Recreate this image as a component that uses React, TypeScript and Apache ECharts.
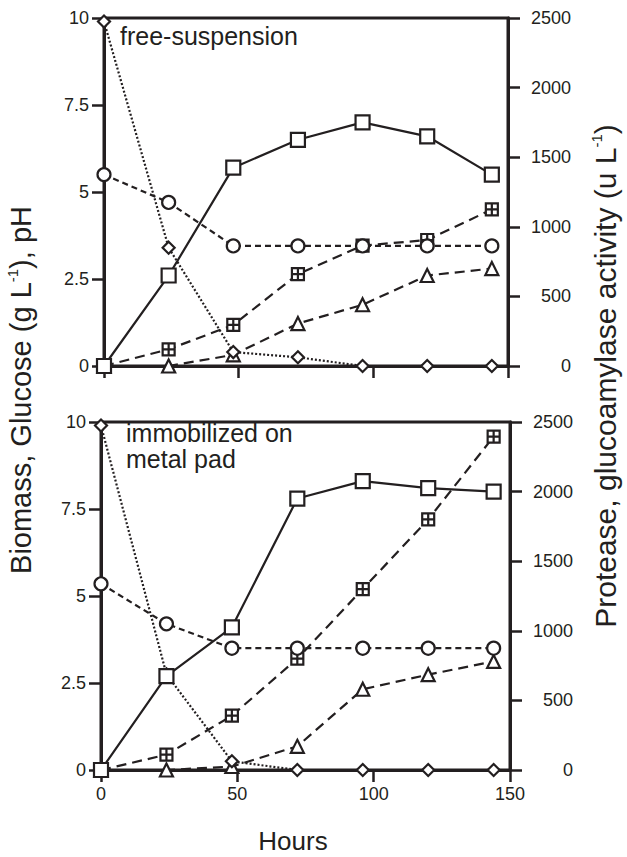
import React, { useEffect, useRef } from "react";
import * as echarts from "echarts";

const hours = [0, 24, 48, 72, 96, 120, 144];
const xTicks = [0, 50, 100, 150];
const leftTicks = [0, 2.5, 5, 7.5, 10];
const rightTicks = [0, 500, 1000, 1500, 2000, 2500];

// free-suspension
const biomassFree = [0, 2.6, 5.7, 6.5, 7.0, 6.6, 5.5];
const glucoseFree = [9.9, 3.4, 0.4, 0.25, 0, 0, 0];
const phFree = [5.5, 4.7, 3.45, 3.45, 3.45, 3.45, 3.45];
const proteaseFree = [0, 120, 295, 660, 865, 905, 1125];
const glucoamylaseFree = [0, 0, 80, 305, 440, 650, 700];

// immobilized on metal pad
const biomassImm = [0, 2.7, 4.1, 7.8, 8.3, 8.1, 8.0];
const glucoseImm = [9.9, 2.75, 0.25, 0, 0, 0, 0];
const phImm = [5.35, 4.2, 3.5, 3.5, 3.5, 3.5, 3.5];
const proteaseImm = [0, 110, 390, 800, 1300, 1800, 2395];
const glucoamylaseImm = [0, 0, 25, 170, 580, 685, 780];

const INK = "#231f20";
const FONT = "Liberation Sans, Arial, sans-serif";
const BOXPLUS = "path://M0,0H10V10H0Z M5,0V10 M0,5H10";

const pairs = (vals: number[]) => hours.map((h, i) => [h, vals[i]]);

function makeSeries(
  gi: number,
  bio: number[],
  glu: number[],
  ph: number[],
  pro: number[],
  gla: number[]
) {
  const base = {
    type: "line",
    xAxisIndex: gi,
    symbolKeepAspect: true,
    itemStyle: { color: "#ffffff", borderColor: INK, borderWidth: 2.2 },
    emphasis: { disabled: true },
  };
  return [
    {
      ...base,
      name: "glucoamylase" + gi,
      yAxisIndex: gi * 2 + 1,
      data: pairs(gla),
      symbol: "triangle",
      symbolSize: 13,
      lineStyle: { color: INK, width: 2.2, type: [10, 6] },
    },
    {
      ...base,
      name: "protease" + gi,
      yAxisIndex: gi * 2 + 1,
      data: pairs(pro),
      symbol: BOXPLUS,
      symbolSize: 12,
      lineStyle: { color: INK, width: 2.2, type: [10, 6] },
    },
    {
      ...base,
      name: "glucose" + gi,
      yAxisIndex: gi * 2,
      data: pairs(glu),
      symbol: "diamond",
      symbolSize: 12,
      lineStyle: { color: INK, width: 2.2, type: [2, 2] },
    },
    {
      ...base,
      name: "pH" + gi,
      yAxisIndex: gi * 2,
      data: pairs(ph),
      symbol: "circle",
      symbolSize: 13,
      lineStyle: { color: INK, width: 2.2, type: [6, 4] },
    },
    {
      ...base,
      name: "biomass" + gi,
      yAxisIndex: gi * 2,
      data: pairs(bio),
      symbol: "rect",
      symbolSize: 14,
      lineStyle: { color: INK, width: 2.2, type: "solid" },
    },
  ];
}

export default function App() {
  const ref = useRef<HTMLDivElement>(null);
  useEffect(() => {
    if (!ref.current) return;
    const chart = echarts.init(ref.current, null, { renderer: "svg" });
    const axisLine = { show: true, onZero: false, lineStyle: { color: INK, width: 3 } };
    const axisTick = { show: true, inside: false, length: 12, lineStyle: { color: INK, width: 2.5 } };
    const labelStyle = { color: INK, fontFamily: FONT, fontSize: 18, formatter: (v: number) => String(v) };

    const xAxis = (gi: number, showLabels: boolean) => ({
      type: "value",
      gridIndex: gi,
      min: xTicks[0],
      max: xTicks[xTicks.length - 1],
      interval: 50,
      axisLine,
      axisTick,
      splitLine: { show: false },
      axisLabel: { show: showLabels, margin: 15, ...labelStyle },
    });
    const yLeft = (gi: number) => ({
      type: "value",
      gridIndex: gi,
      position: "left",
      min: leftTicks[0],
      max: leftTicks[leftTicks.length - 1],
      interval: 2.5,
      axisLine,
      axisTick,
      splitLine: { show: false },
      axisLabel: { margin: 15, ...labelStyle },
    });
    const yRight = (gi: number) => ({
      type: "value",
      gridIndex: gi,
      position: "right",
      min: rightTicks[0],
      max: rightTicks[rightTicks.length - 1],
      interval: 500,
      axisLine,
      axisTick,
      splitLine: { show: false },
      axisLabel: { margin: 63, align: "right", ...labelStyle },
    });

    const option = {
      animation: false,
      backgroundColor: "#ffffff",
      grid: [
        { left: 104, right: 119, top: 18, height: 348, show: true, borderColor: INK, borderWidth: 3 },
        { left: 101, right: 117, top: 422, height: 348, show: true, borderColor: INK, borderWidth: 3 },
      ],
      xAxis: [xAxis(0, false), xAxis(1, true)],
      yAxis: [yLeft(0), yRight(0), yLeft(1), yRight(1)],
      series: [
        ...makeSeries(0, biomassFree, glucoseFree, phFree, proteaseFree, glucoamylaseFree),
        ...makeSeries(1, biomassImm, glucoseImm, phImm, proteaseImm, glucoamylaseImm),
      ],
      graphic: [
        {
          type: "text",
          x: 120,
          y: 36,
          style: {
            text: "free-suspension",
            fontFamily: FONT,
            fontSize: 25,
            fill: INK,
            align: "left",
            verticalAlign: "middle",
          },
        },
        {
          type: "text",
          x: 126,
          y: 433,
          style: {
            text: "immobilized on",
            fontFamily: FONT,
            fontSize: 25,
            fill: INK,
            align: "left",
            verticalAlign: "middle",
          },
        },
        {
          type: "text",
          x: 126,
          y: 459,
          style: {
            text: "metal pad",
            fontFamily: FONT,
            fontSize: 25,
            fill: INK,
            align: "left",
            verticalAlign: "middle",
          },
        },
        {
          type: "text",
          x: 293,
          y: 841,
          style: {
            text: "Hours",
            fontFamily: FONT,
            fontSize: 26,
            fill: INK,
            align: "center",
            verticalAlign: "middle",
          },
        },
        {
          type: "text",
          x: 21,
          y: 390,
          rotation: Math.PI / 2,
          style: {
            text: "Biomass, Glucose (g L{sup|-1}), pH",
            fontFamily: FONT,
            fontSize: 29,
            lineHeight: 32,
            fill: INK,
            align: "center",
            verticalAlign: "middle",
            rich: {
              sup: { fontSize: 15, fontFamily: FONT, fill: INK, verticalAlign: "top", lineHeight: 32 },
            },
          },
        },
        {
          type: "text",
          x: 605,
          y: 376,
          rotation: Math.PI / 2,
          style: {
            text: "Protease, glucoamylase activity (u L{sup|-1})",
            fontFamily: FONT,
            fontSize: 30,
            lineHeight: 32,
            fill: INK,
            align: "center",
            verticalAlign: "middle",
            rich: {
              sup: { fontSize: 15, fontFamily: FONT, fill: INK, verticalAlign: "top", lineHeight: 32 },
            },
          },
        },
      ],
    };
    chart.setOption(option as any);
    return () => chart.dispose();
  }, []);
  return (
    <div
      ref={ref}
      style={{ position: "fixed", left: 0, top: 0, width: 627, height: 857 }}
    />
  );
}
